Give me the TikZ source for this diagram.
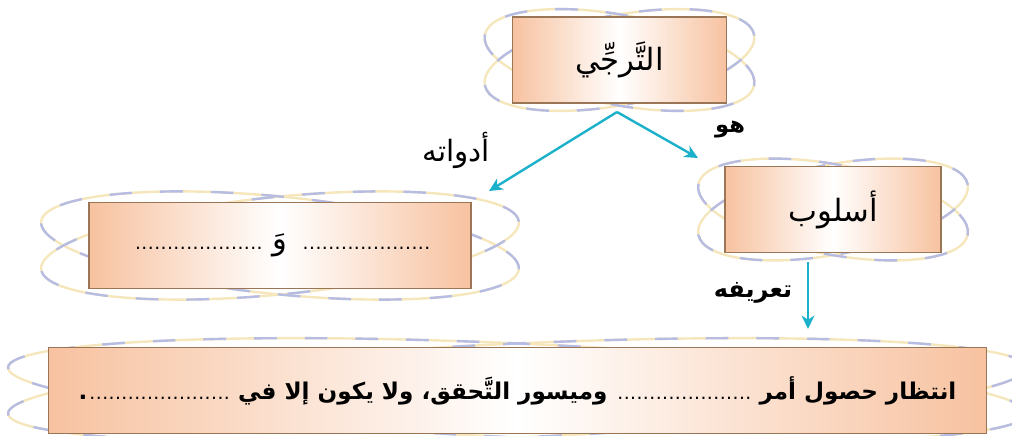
\documentclass[tikz,border=0pt]{standalone}
\usepackage{fontspec}
\usetikzlibrary{arrows.meta}
\TeXXeTstate=1
\newfontfamily\ar[Script=Arabic]{DejaVu Sans}
\definecolor{peach}{HTML}{F7C2A0}
\definecolor{boxline}{HTML}{9A7656}
\definecolor{loopblue}{HTML}{B7BCE2}
\definecolor{loopcream}{HTML}{F5E6BC}
\definecolor{arrowcol}{HTML}{1BB1CA}
\newcommand\dotrun[1]{\hbox to #1{\mdseries\fontsize{14}{16}\selectfont\leaders\hbox to 4.8pt{\hss.\hss}\hfill}}
\newcommand\twoloops[5]{%
  \draw[loopbase, rotate around={#5:(#1,#2)}] (#1,#2) ellipse [x radius=#3*0.75pt, y radius=#4*0.75pt];
  \draw[loopbase, rotate around={-#5:(#1,#2)}] (#1,#2) ellipse [x radius=#3*0.75pt, y radius=#4*0.75pt];
  \draw[loopdash, rotate around={#5:(#1,#2)}] (#1,#2) ellipse [x radius=#3*0.75pt, y radius=#4*0.75pt];
  \draw[loopdash, rotate around={-#5:(#1,#2)}] (#1,#2) ellipse [x radius=#3*0.75pt, y radius=#4*0.75pt];
}
\tikzset{
  loopbase/.style={draw=loopcream, line width=1.8pt},
  loopdash/.style={draw=loopblue, line width=1.8pt, dash pattern=on 17pt off 21pt},
  boxnode/.style={draw=boxline, line width=0.9pt, left color=peach, right color=peach, middle color=white, inner sep=0pt, align=center},
  conn/.style={draw=arrowcol, line width=1.8pt, -{Stealth[length=10pt,width=9.5pt,inset=3pt]}},
  lbl/.style={inner sep=0pt}
}
\begin{document}
\begin{tikzpicture}[x=0.75pt,y=-0.75pt]
\useasboundingbox (0,0) rectangle (1012,435);
% decorations
\twoloops{619.5}{60}{137}{45}{10.6}
\twoloops{833}{209.5}{137}{45}{10.6}
\twoloops{280}{245.5}{240}{48.8}{5.7}
\twoloops{517.5}{390.5}{510}{47}{2.6}
% boxes
\node[boxnode, minimum width=161pt, minimum height=64.5pt] (T) at (619.5,60)
  {\ar\fontsize{23}{27}\selectfont\beginR التَّرجِّي\endR};
\node[boxnode, minimum width=162pt, minimum height=64pt] (R) at (833,209.5)
  {\ar\fontsize{23}{27}\selectfont\beginR أسلوب\endR};
\node[boxnode, minimum width=286.5pt, minimum height=64pt] (L) at (280,245.5)
  {\ar\fontsize{23}{27}\selectfont\beginR\dotrun{100pt} وَ \dotrun{100pt}\endR};
\node[boxnode, minimum width=704pt, minimum height=64pt] (B) at (517.5,390.5)
  {\ar\bfseries\fontsize{17.3}{21}\selectfont\beginR انتظار حصول أمر \dotrun{102pt} وميسور التَّحقق، ولا يكون إلا في \dotrun{110pt}\kern-3pt.\endR};
% connectors
\coordinate (Tout) at (617,112);
\coordinate (Lin) at (489,191);
\coordinate (Rin) at (698,158);
\coordinate (Rout) at (808,262);
\coordinate (Bin) at (808,329);
\draw[conn] (Tout) -- (Lin);
\draw[conn] (Tout) -- (Rin);
\draw[conn] (Rout) -- (Bin);
% labels
\node[lbl] (l1) at (456,150) {\ar\fontsize{22}{26}\selectfont\beginR أدواته\endR};
\node[lbl] (l2) at (730,130) {\ar\bfseries\fontsize{17}{20}\selectfont\beginR هو\endR};
\node[lbl] (l3) at (753,293) {\ar\bfseries\fontsize{18}{22}\selectfont\beginR تعريفه\endR};
\end{tikzpicture}
\end{document}
